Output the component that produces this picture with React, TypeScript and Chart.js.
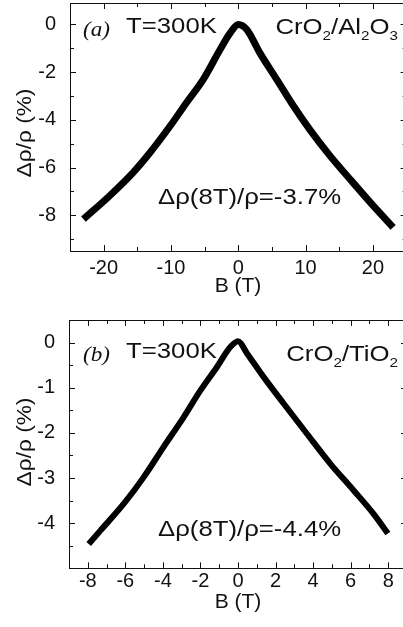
import { useEffect, useRef } from 'react';
import { Chart, registerables } from 'chart.js';
Chart.register(...registerables);

// ---------- Panel (a): CrO2 / Al2O3 ----------
const fieldA = [-23.0, -19.1, -15.6, -13.1, -10.1, -7.7, -5.2, -2.7, -1.2, 0, 1.25, 3.2, 5.7, 8.2, 10.65, 13.6, 16.6, 19.6, 23.0];
const mrA = [-8.16, -7.18, -6.2, -5.37, -4.25, -3.28, -2.3, -1.05, -0.35, 0, -0.21, -1.19, -2.3, -3.42, -4.42, -5.5, -6.49, -7.46, -8.51];
const xMajorA = [-20, -10, 0, 10, 20];
const xMinorA = [-25, -15, -5, 5, 15, 25];
const yMajorA = [0, -2, -4, -6, -8];
const yMinorA = [-1, -3, -5, -7, -9];
const tagA = '(a)';
const sampleA = 'CrO_2/Al_2O_3';
const noteA = 'Δρ(8T)/ρ=-3.7%';

// ---------- Panel (b): CrO2 / TiO2 ----------
const fieldB = [-7.95, -7.32, -6.08, -5.02, -3.96, -2.89, -2.0, -1.12, -0.41, 0, 0.48, 1.36, 2.43, 3.67, 4.91, 6.15, 7.21, 7.98];
const mrB = [-4.46, -4.16, -3.57, -2.98, -2.31, -1.65, -1.06, -0.54, -0.1, 0.03, -0.24, -0.76, -1.35, -2.02, -2.68, -3.27, -3.79, -4.23];
const xMajorB = [-8, -6, -4, -2, 0, 2, 4, 6, 8];
const xMinorB = [-9, -7, -5, -3, -1, 1, 3, 5, 7, 9];
const yMajorB = [0, -1, -2, -3, -4];
const yMinorB = [-0.5, -1.5, -2.5, -3.5, -4.5];
const tagB = '(b)';
const sampleB = 'CrO_2/TiO_2';
const noteB = 'Δρ(8T)/ρ=-4.4%';

const tempLabel = 'T=300K';
const xTitle = 'B (T)';
const yTitle = 'Δρ/ρ (%)';

const SANS = "'Liberation Sans', Arial, Helvetica, sans-serif";
const SERIF = "'Liberation Serif', 'Times New Roman', serif";
const INK = '#111';

type Seg = { t: string; sub: boolean };
function parseRich(text: string): Seg[] {
  const parts = text.split('_');
  const segs: Seg[] = [{ t: parts[0], sub: false }];
  for (let i = 1; i < parts.length; i++) {
    segs.push({ t: parts[i].charAt(0), sub: true });
    if (parts[i].length > 1) segs.push({ t: parts[i].slice(1), sub: false });
  }
  return segs;
}

function drawRich(ctx: CanvasRenderingContext2D, text: string, x: number, y: number, align: string, size: number, family: string, style: string, sx: number) {
  const segs = parseRich(text);
  const subSize = Math.round(size * 0.6);
  const fontOf = (s: Seg) => `${style} ${s.sub ? subSize : size}px ${family}`;
  let total = 0;
  const widths = segs.map((s) => {
    ctx.font = fontOf(s);
    const w = ctx.measureText(s.t).width;
    total += w;
    return w;
  });
  let x0 = x;
  if (align === 'right') x0 = x - total * sx;
  else if (align === 'center') x0 = x - (total * sx) / 2;
  ctx.save();
  ctx.translate(x0, y);
  ctx.scale(sx, 1);
  ctx.fillStyle = INK;
  ctx.textBaseline = 'alphabetic';
  ctx.textAlign = 'left';
  let cx = 0;
  segs.forEach((s, i) => {
    ctx.font = fontOf(s);
    ctx.fillText(s.t, cx, s.sub ? size * 0.28 : 0);
    cx += widths[i];
  });
  ctx.restore();
}

type TextItem = { text: string; x: number; y: number; align: string; size: number; family: string; style: string; sx: number; rotate?: boolean };

function makeChart(canvas: HTMLCanvasElement, p: any) {
  const framePlugin = {
    id: 'frameTicks',
    beforeDatasetsDraw(chart: any) {
      const { ctx, chartArea } = chart;
      const { left, right, top, bottom } = chartArea;
      const xs = chart.scales.x;
      const ys = chart.scales.y;
      ctx.save();
      ctx.strokeStyle = INK;
      ctx.lineWidth = 1;
      ctx.strokeRect(Math.round(left) + 0.5, Math.round(top) + 0.5, Math.round(right - left), Math.round(bottom - top));
      const tick = (vals: number[], len: number, horiz: boolean) => {
        vals.forEach((v) => {
          if (horiz) {
            const px = Math.round(xs.getPixelForValue(v)) + 0.5;
            if (px < left - 1 || px > right + 1) return;
            ctx.beginPath();
            ctx.moveTo(px, bottom);
            ctx.lineTo(px, bottom - len);
            ctx.moveTo(px, top);
            ctx.lineTo(px, top + len);
            ctx.stroke();
          } else {
            const py = Math.round(ys.getPixelForValue(v)) + 0.5;
            if (py < top - 1 || py > bottom + 1) return;
            ctx.beginPath();
            ctx.moveTo(left, py);
            ctx.lineTo(left + len, py);
            ctx.moveTo(right, py);
            ctx.lineTo(right - len, py);
            ctx.stroke();
          }
        });
      };
      tick(p.xMajor, 6, true);
      tick(p.xMinor, 4, true);
      tick(p.yMajor, 6, false);
      tick(p.yMinor, 4, false);
      ctx.restore();
    },
    afterDraw(chart: any) {
      const { ctx } = chart;
      (p.texts as TextItem[]).forEach((t) => {
        if (t.rotate) {
          ctx.save();
          ctx.translate(t.x, t.y);
          ctx.rotate(-Math.PI / 2);
          drawRich(ctx, t.text, 0, 0, 'center', t.size, t.family, t.style, t.sx);
          ctx.restore();
        } else {
          drawRich(ctx, t.text, t.x, t.y, t.align, t.size, t.family, t.style, t.sx);
        }
      });
    },
  };

  return new Chart(canvas, {
    type: 'line',
    data: {
      datasets: [
        {
          data: p.xs.map((x: number, i: number) => ({ x, y: p.ys[i] })),
          borderColor: '#000',
          borderWidth: p.lw,
          pointRadius: 0,
          cubicInterpolationMode: 'monotone',
          borderJoinStyle: 'round',
          borderCapStyle: 'butt',
          fill: false,
        },
      ],
    },
    options: {
      responsive: false,
      animation: false,
      devicePixelRatio: 1,
      layout: { padding: { top: p.padTop, right: p.padRight, left: 0, bottom: 0 } },
      plugins: { legend: { display: false }, tooltip: { enabled: false }, title: { display: false } },
      scales: {
        x: {
          type: 'linear',
          min: p.xMin,
          max: p.xMax,
          grid: { display: false },
          border: { display: false },
          ticks: {
            color: INK,
            font: { family: SANS, size: 20 },
            padding: p.xLabelPad,
            autoSkip: false,
            maxRotation: 0,
            callback: (v: any) => String(v),
          },
          afterBuildTicks: (s: any) => {
            s.ticks = p.xMajor.map((v: number) => ({ value: v }));
          },
          afterFit: (s: any) => {
            s.height = p.xAxisH;
            s.paddingLeft = 0;
            s.paddingRight = 0;
          },
        },
        y: {
          type: 'linear',
          min: p.yMin,
          max: p.yMax,
          grid: { display: false },
          border: { display: false },
          ticks: {
            color: INK,
            font: { family: SANS, size: 20 },
            padding: 6,
            autoSkip: false,
            callback: (v: any) => String(v),
          },
          afterBuildTicks: (s: any) => {
            s.ticks = p.yMajor.map((v: number) => ({ value: v }));
          },
          afterFit: (s: any) => {
            s.width = p.yAxisW;
            s.paddingTop = 0;
            s.paddingBottom = 0;
          },
        },
      },
    },
    plugins: [framePlugin],
  } as any);
}

const ANN = 22;
const SX = 1.17;

const panelA = {
  xs: fieldA, ys: mrA, lw: 7,
  xMin: -25, xMax: 25, yMin: -9.5, yMax: 0.9,
  xMajor: xMajorA, xMinor: xMinorA, yMajor: yMajorA, yMinor: yMinorA,
  padTop: 3, padRight: 13.4, xAxisH: 49, yAxisW: 70, xLabelPad: -3,
  texts: [
    { text: tagA, x: 83, y: 36, align: 'left', size: 22, family: SERIF, style: 'italic', sx: 1.05 },
    { text: tempLabel, x: 126, y: 33, align: 'left', size: ANN, family: SANS, style: 'normal', sx: SX },
    { text: sampleA, x: 398, y: 34, align: 'right', size: ANN, family: SANS, style: 'normal', sx: SX },
    { text: noteA, x: 158, y: 204, align: 'left', size: ANN, family: SANS, style: 'normal', sx: SX },
    { text: xTitle, x: 238, y: 292, align: 'center', size: 21, family: SANS, style: 'normal', sx: 1.0 },
    { text: yTitle, x: 31, y: 133, align: 'center', size: 21, family: SANS, style: 'normal', sx: 1.08, rotate: true },
  ],
};

const panelB = {
  xs: fieldB, ys: mrB, lw: 6,
  xMin: -9, xMax: 9, yMin: -5, yMax: 0.5,
  xMajor: xMajorB, xMinor: xMinorB, yMajor: yMajorB, yMinor: yMinorB,
  padTop: 15, padRight: 13, xAxisH: 58.7, yAxisW: 69, xLabelPad: -7,
  texts: [
    { text: tagB, x: 83, y: 56, align: 'left', size: 22, family: SERIF, style: 'italic', sx: 1.05 },
    { text: tempLabel, x: 126, y: 53, align: 'left', size: ANN, family: SANS, style: 'normal', sx: SX },
    { text: sampleB, x: 398, y: 56, align: 'right', size: ANN, family: SANS, style: 'normal', sx: SX },
    { text: noteB, x: 158, y: 231, align: 'left', size: ANN, family: SANS, style: 'normal', sx: SX },
    { text: xTitle, x: 238, y: 303, align: 'center', size: 21, family: SANS, style: 'normal', sx: 1.0 },
    { text: yTitle, x: 31, y: 137, align: 'center', size: 21, family: SANS, style: 'normal', sx: 1.08, rotate: true },
  ],
};

function Panel({ top, height, cfg }: { top: number; height: number; cfg: any }) {
  const ref = useRef<HTMLCanvasElement>(null);
  useEffect(() => {
    const chart = makeChart(ref.current as HTMLCanvasElement, cfg);
    return () => chart.destroy();
  }, []);
  return (
    <canvas
      ref={ref}
      width={420}
      height={height}
      style={{ position: 'absolute', left: 0, top, width: 420, height, display: 'block' }}
    />
  );
}

export default function App() {
  return (
    <div style={{ position: 'fixed', left: 0, top: 0, width: 403, height: 627, overflow: 'hidden', background: '#fff' }}>
      <Panel top={0} height={300} cfg={panelA} />
      <Panel top={305} height={322} cfg={panelB} />
    </div>
  );
}
